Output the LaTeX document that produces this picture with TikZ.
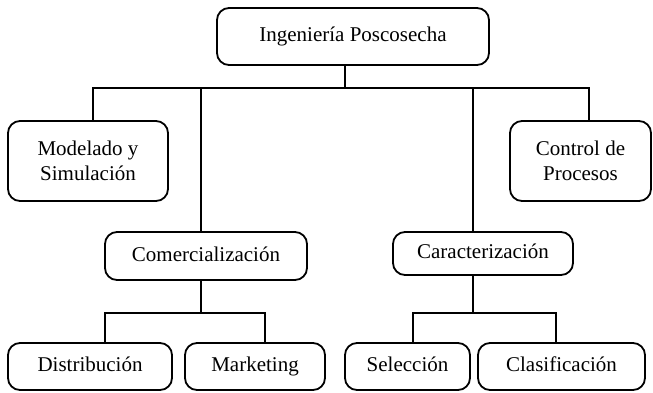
\documentclass[tikz,border=0pt]{standalone}
\usepackage{fontspec}
\setmainfont{Liberation Serif}
\begin{document}
\begin{tikzpicture}[x=0.5pt,y=-0.5pt,
      line width=0.9pt,
      box/.style={draw,rounded corners=6pt,align=center,inner sep=0pt,
        font=\fontsize{10.5}{12.5}\selectfont},
      linebox/.style={box,execute at begin node=\strut}]
      \useasboundingbox (0,0) rectangle (653,392);
      \path (353,36.5) node[linebox,minimum width=136pt,minimum height=28.5pt] (top) {Ingenier\'ia Poscosecha};
      \path (88,161) node[box,minimum width=80pt,minimum height=40pt] (mod) {Modelado y\\Simulaci\'on};
      \path (580.5,161) node[box,minimum width=70.5pt,minimum height=40pt] (ctl) {Control de\\Procesos};
      \path (206,256) node[linebox,minimum width=101pt,minimum height=24pt] (com) {Comercializaci\'on};
      \path (483,253.5) node[linebox,minimum width=90pt,minimum height=21.5pt] (car) {Caracterizaci\'on};
      \path (90,366.5) node[linebox,minimum width=82pt,minimum height=23.5pt] (dis) {Distribuci\'on};
      \path (255,366.5) node[linebox,minimum width=70pt,minimum height=23.5pt] (mkt) {Marketing};
      \path (407.5,366.5) node[linebox,minimum width=62.5pt,minimum height=23.5pt] (sel) {Selecci\'on};
      \path (561.5,366.5) node[linebox,minimum width=83.5pt,minimum height=23.5pt] (cla) {Clasificaci\'on};
      % first level
      \coordinate (b0) at (345,88);
      \coordinate (b1) at (93,88);
      \coordinate (b2) at (201,88);
      \coordinate (b3) at (473,88);
      \coordinate (b4) at (589,88);
      \draw (top.south -| b0) -- (b0);
      \draw (mod.north -| b1) -- (b1) -- (b4) -- (ctl.north -| b4);
      \draw (b2) -- (com.north -| b2);
      \draw (b3) -- (car.north -| b3);
      % second level
      \coordinate (c0) at (201,313);
      \coordinate (c1) at (105,313);
      \coordinate (c2) at (265,313);
      \draw (com.south -| c0) -- (c0);
      \draw (dis.north -| c1) -- (c1) -- (c2) -- (mkt.north -| c2);
      \coordinate (d0) at (473,313);
      \coordinate (d1) at (413,313);
      \coordinate (d2) at (556,313);
      \draw (car.south -| d0) -- (d0);
      \draw (sel.north -| d1) -- (d1) -- (d2) -- (cla.north -| d2);
\end{tikzpicture}
\end{document}
